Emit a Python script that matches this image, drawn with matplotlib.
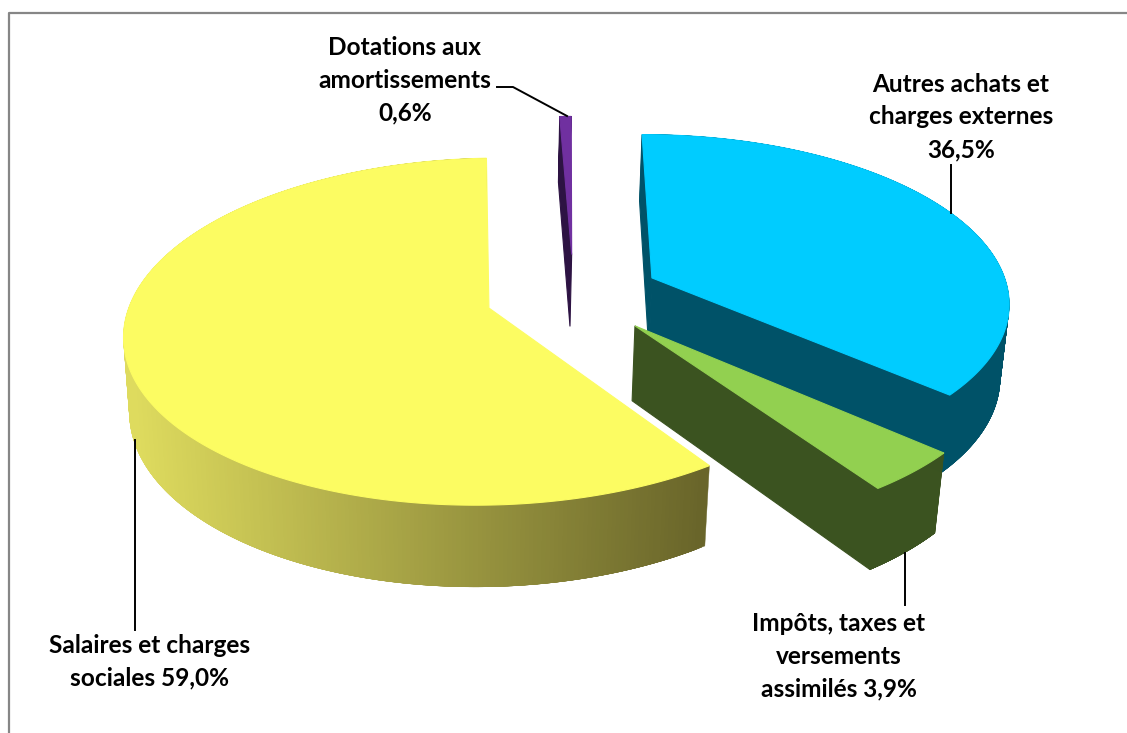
import numpy as np
import matplotlib
matplotlib.use("Agg")
import matplotlib.pyplot as plt
from matplotlib.colors import to_rgb

# Data
categories = ["Salaires et charges\nsociales 59,0%",
              "Dotations aux\namortissements\n0,6%",
              "Autres achats et\ncharges externes\n36,5%",
              "Impôts, taxes et\nversements\nassimilés 3,9%"]
shares = [59.0, 0.6, 36.5, 3.9]

# slices run clockwise from the back of the pie, yellow one ends at the top
top_colors = ["#FCFC62", "#7030A0", "#00CCFF", "#92D050"]
wall_colors = ["#69652A", "#2D1343", "#005268", "#3B5320"]
explode_u = [0.058, 0.30, 0.522, 0.456]
explode_v = [-0.05, 0.268, 0.112, -0.17]
# which cut faces the viewer can see: 0 = start edge, 1 = end edge
cut_walls = [[], [0], [0, 1], [1]]

# -------------------------------
# PROJECTION
# -------------------------------
X0, Y0 = 468, 300
F, G = 358.5, 168
K, M, KU = 0.135, 0.017, 0.0045
TILT = 7
DEPTH = 75


def project(u, v, z):
    s = 1 / (1 + K * v + M * z + KU * u)
    return X0 + F * u * s, Y0 + (-G * v - TILT * u + DEPTH * z) * s


def wedge_points(a0, a1, du, dv, z, n=360):
    t = np.radians(np.linspace(a0, a1, n))
    return project(np.sin(t) + du, np.cos(t) + dv, z)


def poly(ax, xs, ys, color, zorder, lw=0.8):
    ax.fill(xs, ys, facecolor=color, edgecolor=color, linewidth=lw, zorder=zorder)


fig = plt.figure(figsize=(11.27, 7.33), dpi=100)
ax = fig.add_axes([0, 0, 1, 1])

# chart border, only top and left fall inside the picture
ax.plot([8.5, 8.5, 1127], [733, 12.5, 12.5], color="#868686", lw=1.6, zorder=1)

# start angles
order = [1, 2, 3, 0]
angles = {}
start = 0.0
for i in order:
    angles[i] = (start, start + shares[i] * 3.6)
    start += shares[i] * 3.6

light = np.array(to_rgb("#DEDB5E"))
dark = np.array(to_rgb("#69652A"))

z = 2
for i in [0, 1, 2, 3]:
    a0, a1 = angles[i]
    du, dv = explode_u[i], explode_v[i]

    # flat cut walls
    for w in cut_walls[i]:
        t = np.radians((a0, a1)[w])
        x_t, y_t = project(np.array([du, np.sin(t) + du]), np.array([dv, np.cos(t) + dv]), 0)
        x_b, y_b = project(np.array([du, np.sin(t) + du]), np.array([dv, np.cos(t) + dv]), 1)
        poly(ax, np.r_[x_t, x_b[::-1]], np.r_[y_t, y_b[::-1]], wall_colors[i], z)

    # outer wall, overlapping strips so no seams show
    x_t, y_t = wedge_points(a0, a1, du, dv, 0)
    x_b, y_b = wedge_points(a0, a1, du, dv, 1)
    for j in range(len(x_t) - 1):
        k = min(j + 4, len(x_t) - 1)
        if i == 0:
            f = np.clip((x_t[j] - 135) / (705 - 135), 0, 1)
            color = tuple(light + (dark - light) * f)
        else:
            color = wall_colors[i]
        poly(ax, [x_t[j], x_t[k], x_b[k], x_b[j]], [y_t[j], y_t[k], y_b[k], y_b[j]], color, z, lw=0.3)

    # top face
    xa, ya = project(du, dv, 0)
    poly(ax, np.r_[xa, x_t], np.r_[ya, y_t], top_colors[i], z + 0.5)
    z += 1

ax.set_xlim(0, 1127)
ax.set_ylim(733, 0)
ax.axis("off")

# -------------------------------
# LABELS AND LEADER LINES
# -------------------------------
label_x = [150, 405, 961, 839]
label_y = [662, 80, 117, 656]
for name, lx, ly in zip(categories, label_x, label_y):
    ax.text(lx, ly, name, ha="center", va="center", family="Lato", fontweight="bold",
            fontsize=17.6, color="black", linespacing=1.5, zorder=10)

ax.plot([135, 135], [440, 630], color="black", lw=1.4, zorder=9)
ax.plot([497, 513, 567], [87, 87, 116], color="black", lw=1.4, zorder=9)
ax.plot([951, 951], [165, 213], color="black", lw=1.4, zorder=9)
ax.plot([905, 905], [553, 605], color="black", lw=1.4, zorder=9)

fig.savefig("out.png", dpi=100, facecolor="white")
